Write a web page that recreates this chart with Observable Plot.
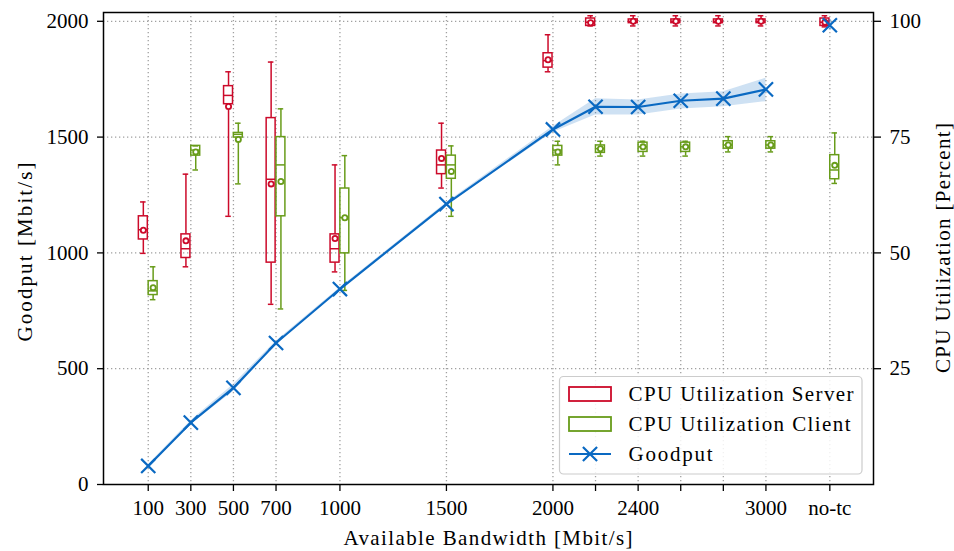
<!DOCTYPE html>
<html><head><meta charset="utf-8">
<script src="https://cdn.jsdelivr.net/npm/d3@7"></script>
<script src="https://cdn.jsdelivr.net/npm/@observablehq/plot@0.6"></script>
<style>
body{margin:0;background:#fff;}
#chart{width:954px;height:551px;}
</style></head><body><div id="chart"></div>
<script>
// x categories (numeric positions; "no-tc" placed at 3300)
const bandwidth = [100,300,500,700,1000,1500,2000,2200,2400,2600,2800,3000,3300];
const tickLabels = ["100","300","500","700","1000","1500","2000","","2400","","","3000","no-tc"];

// CPU Utilization Server [Percent]
const serverLow  = [49.9,47.0,57.9,38.9,45.9,64.0,89.1,99.0,99.0,99.0,99.0,99.0,98.8];
const serverQ1   = [52.9,48.9,82.1,47.9,47.9,67.0,90.0,99.0,99.6,99.6,99.6,99.6,99.0];
const serverMed  = [55.0,50.9,84.0,65.9,50.9,69.0,91.5,99.8,100.0,100.0,100.0,100.0,99.8];
const serverQ3   = [57.9,54.0,86.0,79.1,54.0,72.1,93.1,100.6,100.4,100.4,100.4,100.4,100.6];
const serverHigh = [61.0,67.0,89.1,91.2,69.0,78.0,97.1,101.2,101.2,101.2,101.2,101.2,101.2];
const serverMean = [54.9,52.6,81.6,64.9,53.1,70.4,91.7,99.7,100.0,100.0,100.0,100.0,99.8];

// CPU Utilization Client [Percent]
const clientLow  = [39.9,67.9,64.9,37.9,41.9,57.9,69.0,70.9,70.9,70.9,71.8,71.8,65.0];
const clientQ1   = [40.9,71.0,74.9,57.9,49.9,66.0,71.0,71.6,71.8,71.8,72.5,72.5,65.9];
const clientMed  = [41.8,72.2,75.6,69.0,57.6,69.0,72.2,72.5,72.9,72.9,73.3,73.3,67.9];
const clientQ3   = [43.9,73.1,75.9,75.0,63.9,71.0,73.1,73.2,73.8,73.8,74.1,74.1,71.1];
const clientHigh = [47.0,73.1,78.0,81.1,71.0,73.1,74.1,74.1,74.1,74.1,75.1,75.1,75.9];
const clientMean = [42.5,71.8,74.5,65.4,57.6,67.6,71.8,72.5,72.9,72.9,73.3,73.3,68.9];

// Goodput [Mbit/s] (shaped bandwidths 100..3000)
const goodput     = [80,267,417,611,844,1211,1533,1631,1630,1657,1666,1706];
const goodputLow  = [75,259,402,603,839,1205,1520,1595,1595,1621,1631,1653];
const goodputHigh = [85,275,432,619,849,1217,1546,1666,1660,1686,1696,1754];
// Goodput without traffic control
const noTcGoodput = [1983];
const noTcLow = [1962];
const noTcHigh = [2008];

const red = "#cc0a2a", green = "#689c1a", blue = "#0a69c2";
const PCT = 20; // 100 % on the right axis = 2000 Mbit/s on the left axis
const idx = d3.range(bandwidth.length);
const gIdx = d3.range(goodput.length);
const OFF = 23, HALF = 21, CAP = 13;

function boxes(color, sign, lo, q1, med, q3, hi, mean) {
  const cx = i => bandwidth[i] + sign * OFF;
  const sw = 1.5;
  return [
    Plot.ruleX(idx, {x: cx, y1: i => lo[i]*PCT, y2: i => q1[i]*PCT, stroke: color, strokeWidth: sw}),
    Plot.ruleX(idx, {x: cx, y1: i => q3[i]*PCT, y2: i => hi[i]*PCT, stroke: color, strokeWidth: sw}),
    Plot.ruleY(idx, {y: i => lo[i]*PCT, x1: i => cx(i)-CAP, x2: i => cx(i)+CAP, stroke: color, strokeWidth: sw}),
    Plot.ruleY(idx, {y: i => hi[i]*PCT, x1: i => cx(i)-CAP, x2: i => cx(i)+CAP, stroke: color, strokeWidth: sw}),
    Plot.rect(idx, {x1: i => cx(i)-HALF, x2: i => cx(i)+HALF, y1: i => q1[i]*PCT, y2: i => q3[i]*PCT, fill: "none", stroke: color, strokeWidth: sw}),
    Plot.ruleY(idx, {y: i => med[i]*PCT, x1: i => cx(i)-HALF, x2: i => cx(i)+HALF, stroke: color, strokeWidth: sw}),
    Plot.dot(idx, {x: cx, y: i => mean[i]*PCT, r: 2.6, stroke: color, fill: "white", strokeWidth: 1.8})
  ];
}

const grid = {stroke: "#a0a0a0", strokeOpacity: 1, strokeWidth: 1.3, strokeDasharray: "1.3,2.7"};

const svg = Plot.plot({
  width: 954, height: 551,
  marginLeft: 103, marginRight: 81, marginTop: 12, marginBottom: 67,
  style: {fontFamily: "'Liberation Serif', serif", fontSize: "21px", background: "white", color: "black"},
  x: {type: "linear", domain: [-110, 3505]},
  y: {domain: [0, 2038]},
  marks: [
    Plot.gridX(bandwidth, grid),
    Plot.gridY([500,1000,1500,2000], grid),
    ...boxes(red, -1, serverLow, serverQ1, serverMed, serverQ3, serverHigh, serverMean),
    ...boxes(green, 1, clientLow, clientQ1, clientMed, clientQ3, clientHigh, clientMean),
    Plot.areaY(gIdx, {x: i => bandwidth[i], y1: i => goodputLow[i], y2: i => goodputHigh[i], fill: blue, fillOpacity: 0.2}),
    Plot.line(gIdx, {x: i => bandwidth[i], y: i => goodput[i], stroke: blue, strokeWidth: 2.2}),
    Plot.dot(gIdx, {x: i => bandwidth[i], y: i => goodput[i], symbol: "times", r: 6.5, stroke: blue, strokeWidth: 2.2}),
    Plot.ruleX([0], {x: () => bandwidth[12], y1: () => noTcLow[0], y2: () => noTcHigh[0], stroke: blue, strokeOpacity: 0.35, strokeWidth: 2.5}),
    Plot.dot([0], {x: () => bandwidth[12], y: () => noTcGoodput[0], symbol: "times", r: 6.5, stroke: blue, strokeWidth: 2.2}),
    Plot.axisX(bandwidth, {anchor: "bottom", tickSize: 7, tickPadding: 9, tickFormat: d => tickLabels[bandwidth.indexOf(d)], label: null, fontSize: 21, strokeWidth: 1.3}),
    Plot.axisY([0,500,1000,1500,2000], {anchor: "left", tickSize: 6, tickPadding: 9, tickFormat: d => String(d), label: null, fontSize: 21, strokeWidth: 1.3}),
    Plot.axisY([500,1000,1500,2000], {anchor: "right", tickSize: 7, tickPadding: 9, tickFormat: d => String(d / PCT), label: null, fontSize: 21, strokeWidth: 1.3}),
    Plot.frame({stroke: "black", strokeWidth: 1.5})
  ]
});
document.getElementById("chart").appendChild(svg);

const s = d3.select(svg);
const font = "'Liberation Serif', serif";
// axis titles
s.append("text").attr("x", 488).attr("y", 545).attr("text-anchor", "middle")
  .attr("font-family", font).attr("font-size", 21).attr("fill", "black")
  .attr("textLength", 289).attr("lengthAdjust", "spacing")
  .text("Available Bandwidth [Mbit/s]");
s.append("text").attr("transform", "translate(32,252) rotate(-90)").attr("text-anchor", "middle")
  .attr("font-family", font).attr("font-size", 21).attr("fill", "black")
  .attr("textLength", 179).attr("lengthAdjust", "spacing")
  .text("Goodput [Mbit/s]");
s.append("text").attr("transform", "translate(950,248) rotate(-90)").attr("text-anchor", "middle")
  .attr("font-family", font).attr("font-size", 21).attr("fill", "black")
  .attr("textLength", 250).attr("lengthAdjust", "spacing")
  .text("CPU Utilization [Percent]");

// legend
const lg = s.append("g");
lg.append("rect").attr("x", 559.5).attr("y", 376.5).attr("width", 302.5).attr("height", 97.5)
  .attr("rx", 4).attr("fill", "white").attr("fill-opacity", 0.85).attr("stroke", "#cccccc").attr("stroke-width", 1.2);
const entries = [
  {label: "CPU Utilization Server", color: red, type: "box", y: 394, w: 225},
  {label: "CPU Utilization Client", color: green, type: "box", y: 424, w: 222},
  {label: "Goodput", color: blue, type: "line", y: 454, w: 84}
];
for (const e of entries) {
  if (e.type === "box") {
    lg.append("rect").attr("x", 569).attr("y", e.y - 7).attr("width", 42).attr("height", 14)
      .attr("fill", "white").attr("stroke", e.color).attr("stroke-width", 1.8);
  } else {
    lg.append("line").attr("x1", 569).attr("x2", 611).attr("y1", e.y).attr("y2", e.y)
      .attr("stroke", e.color).attr("stroke-width", 2.2);
    lg.append("path").attr("d", d3.symbol(d3.symbolTimes, 6.5*6.5*Math.PI)())
      .attr("transform", `translate(590,${e.y})`).attr("fill", "none")
      .attr("stroke", e.color).attr("stroke-width", 2.2);
  }
  lg.append("text").attr("x", 628.5).attr("y", e.y + 7).attr("text-anchor", "start")
    .attr("font-family", font).attr("font-size", 21)
    .attr("fill", "black").attr("textLength", e.w).attr("lengthAdjust", "spacing").text(e.label);
}
</script></body></html>
